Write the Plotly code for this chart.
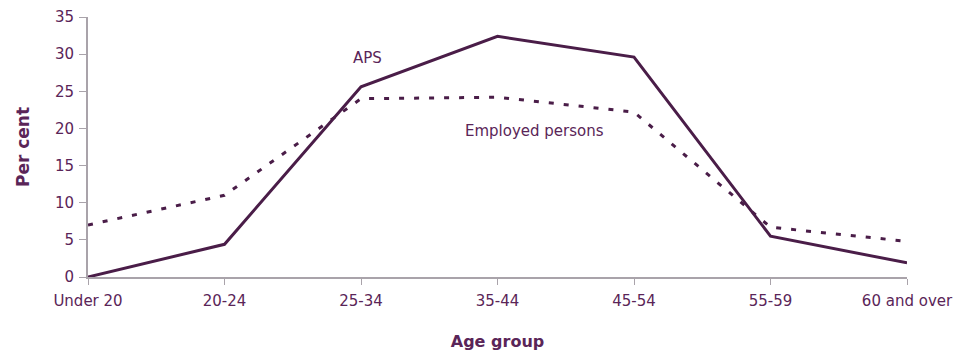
import plotly.graph_objects as go

# Age distribution: APS staff vs all employed persons (per cent)
age_groups = ["Under 20", "20-24", "25-34", "35-44", "45-54", "55-59", "60 and over"]
aps_pct = [0.0, 4.4, 25.6, 32.4, 29.6, 5.5, 1.9]
employed_pct = [7.0, 11.0, 24.0, 24.2, 22.2, 6.7, 4.8]

line_col = "#4a1d48"
text_col = "#5a2558"
axis_col = "#a9a3aa"
font_family = "DejaVu Sans, Arial, sans-serif"

x_idx = list(range(len(age_groups)))

fig = go.Figure()
fig.add_trace(go.Scatter(
    x=x_idx, y=employed_pct, mode="lines", name="Employed persons",
    line=dict(color=line_col, width=3, dash="5px,10px"),
))
fig.add_trace(go.Scatter(
    x=x_idx, y=aps_pct, mode="lines", name="APS",
    line=dict(color=line_col, width=3),
))

fig.add_annotation(x=2.05, y=29.5, text="APS", showarrow=False,
                   font=dict(family=font_family, size=15, color=text_col))
fig.add_annotation(x=3.27, y=19.7, text="Employed persons", showarrow=False,
                   font=dict(family=font_family, size=15, color=text_col))

fig.update_layout(
    width=968, height=352,
    margin=dict(l=88, r=61, t=17, b=75),
    paper_bgcolor="white", plot_bgcolor="white",
    showlegend=False,
    font=dict(family=font_family, size=15, color=text_col),
)
fig.update_xaxes(
    range=[0, len(age_groups) - 1],
    tickmode="array", tickvals=x_idx, ticktext=age_groups,
    showgrid=False, zeroline=False, automargin=False,
    showline=True, linecolor=axis_col, linewidth=2,
    ticks="outside", ticklen=6, tickcolor=axis_col, tickwidth=1,
    ticklabelstandoff=3,
    tickfont=dict(family=font_family, size=15, color=text_col),
    title=dict(text="<b>Age group</b>", standoff=27,
               font=dict(family=font_family, size=16, color=text_col)),
)
fig.update_yaxes(
    range=[0, 35], dtick=5,
    showgrid=False, zeroline=False, automargin=False,
    showline=True, linecolor=axis_col, linewidth=2,
    ticks="outside", ticklen=7, tickcolor=axis_col, tickwidth=1,
    ticklabelstandoff=2,
    tickfont=dict(family=font_family, size=15, color=text_col),
    title=dict(text="<b>Per cent</b>", standoff=21,
               font=dict(family=font_family, size=17, color=text_col)),
)

fig.write_html("out.html")
